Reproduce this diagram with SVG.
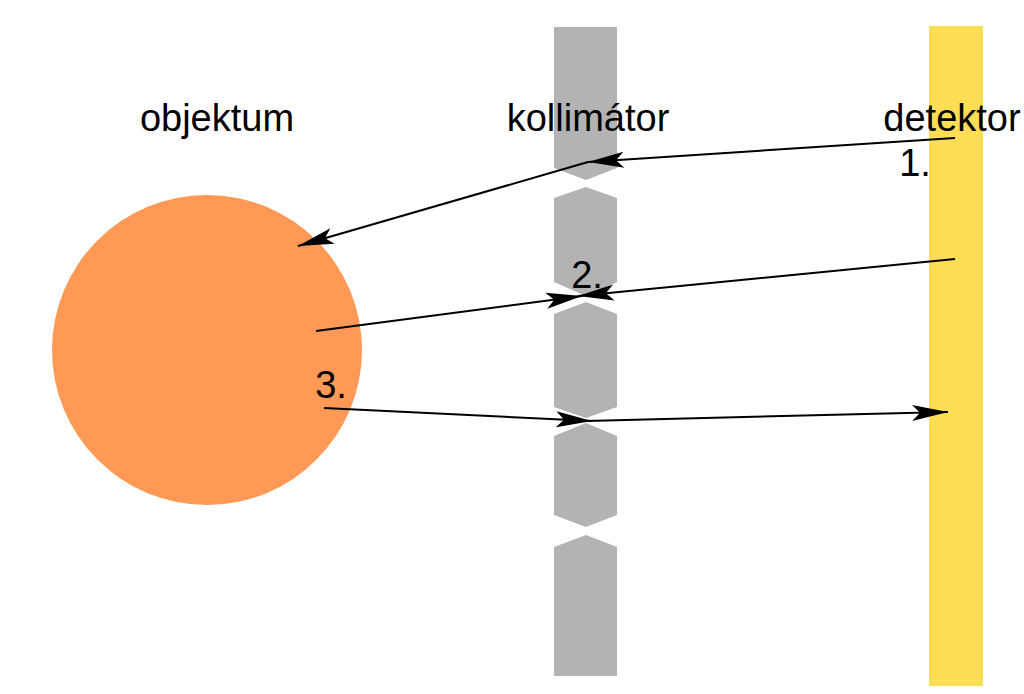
<svg xmlns="http://www.w3.org/2000/svg" width="1024" height="694" viewBox="0 0 1024 694">
<style>
text{font-family:"Liberation Sans",Arial,sans-serif;font-size:38px;fill:#000}
.c{fill:#b3b3b3}
.l{stroke:#000;stroke-width:2;fill:none;marker-end:url(#a)}
</style>
<defs>
<marker id="a" markerWidth="40" markerHeight="20" viewBox="0 0 40 20" refX="36" refY="10" orient="auto" markerUnits="userSpaceOnUse">
<path d="M0,2 L36,10 L0,18 L8,10 Z" fill="#000"/>
</marker>
</defs>
<rect width="1024" height="694" fill="#fff"/>
<g id="objektum"><circle cx="207" cy="350" r="155" fill="#ff9955"/><text x="217" y="131" text-anchor="middle">objektum</text></g>
<g id="kollimator">
<path class="c" d="M554,27 H617 V168 L586,180 L554,168 Z"/>
<path class="c" d="M554,198 L586,187 L617,198 V282 L586,296 L554,282 Z"/>
<path class="c" d="M554,314 L586,302 L617,314 V407 L586,418 L554,407 Z"/>
<path class="c" d="M554,436 L586,423 L617,436 V515 L586,527 L554,515 Z"/>
<path class="c" d="M554,547 L586,535 L617,547 V676 H554 Z"/>
<text x="588" y="131" text-anchor="middle">kollimátor</text>
</g>
<g id="detektor"><rect x="929" y="26" width="54" height="660" fill="#ffdd55"/><text x="952" y="131" text-anchor="middle">detektor</text></g>
<g id="connectors">
<line class="l" x1="955" y1="138" x2="588" y2="162"/>
<line class="l" x1="588" y1="162" x2="298" y2="246"/>
<line class="l" x1="955" y1="259" x2="578" y2="296"/>
<line class="l" x1="316" y1="331" x2="582" y2="296"/>
<line class="l" x1="324" y1="408" x2="592" y2="421"/>
<line class="l" x1="586" y1="421" x2="948" y2="412"/>
</g>
<text x="915" y="176" text-anchor="middle">1.</text>
<text x="587" y="288" text-anchor="middle">2.</text>
<text x="331" y="398" text-anchor="middle">3.</text>
</svg>
